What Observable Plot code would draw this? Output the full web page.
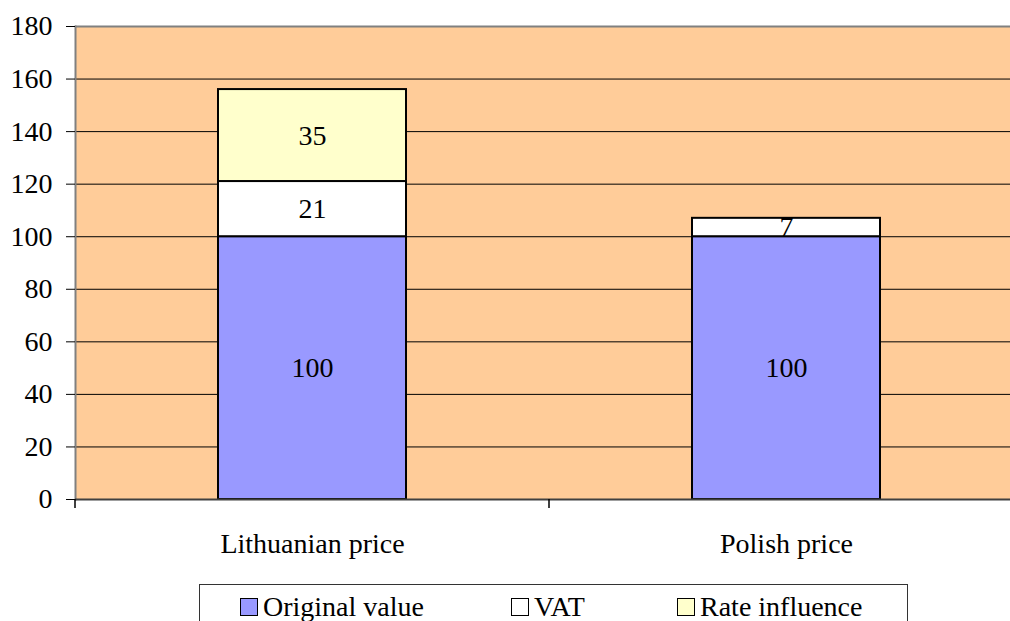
<!DOCTYPE html>
<html>
<head>
<meta charset="utf-8">
<script src="https://cdn.jsdelivr.net/npm/d3@7"></script>
<script src="https://cdn.jsdelivr.net/npm/@observablehq/plot@0.6"></script>
<style>
  html, body { margin: 0; padding: 0; background: #fff; overflow: hidden; width: 1010px; height: 621px; }
  #chart { position: absolute; left: 0; top: 0; width: 1023px; }
  #legend { position: absolute; left: 199px; top: 584px; width: 709px; height: 50px; border: 1px solid #333; box-sizing: border-box; background: #fff;
    font-family: "Times New Roman", "Liberation Serif", Tinos, Times, "DejaVu Serif", "Noto Serif", serif; font-size: 28px; line-height: 28px; color: #000; }
  .item { position: absolute; top: 8px; display: flex; align-items: center; white-space: nowrap; height: 28px; }
  .sw { width: 16px; height: 16px; border: 1.5px solid #000; margin-right: 5px; }
</style>
</head>
<body>
<div id="chart"></div>
<div id="legend"></div>
<script>
const categories = ["Lithuanian price", "Polish price"];
const seriesNames = ["Original value", "VAT", "Rate influence"];
const originalValue = [100, 100];
const vat = [21, 7];
const rateInfluence = [35, 0];
const yTicks = [0, 20, 40, 60, 80, 100, 120, 140, 160, 180];
const colors = ["#9999FF", "#FFFFFF", "#FFFFCC"];

const seriesValues = [originalValue, vat, rateInfluence];
const data = [];
categories.forEach((c, i) => {
  seriesNames.forEach((s, j) => {
    const v = seriesValues[j][i];
    if (v > 0) data.push({cat: c, series: s, value: v, order: j});
  });
});

const font = '"Times New Roman", "Liberation Serif", Tinos, Times, "DejaVu Serif", "Noto Serif", serif';
const plot = Plot.plot({
  width: 1023,
  height: 575,
  marginLeft: 75,
  marginRight: 0,
  marginTop: 26,
  marginBottom: 76,
  style: {fontFamily: font, fontSize: "28px", color: "#000", background: "transparent", overflow: "visible", maxWidth: "none"},
  x: {domain: categories, paddingInner: 0.603, paddingOuter: 0.3015, label: null},
  y: {domain: [0, 180], ticks: yTicks, label: null},
  color: {domain: seriesNames, range: colors},
  marks: [
    Plot.frame({fill: "#FFCC99", stroke: null}),
    Plot.gridY(yTicks.filter(t => t > 0 && t < 180), {stroke: "#000", strokeOpacity: 1, strokeWidth: 1}),
    Plot.ruleY([180], {stroke: "#808080", strokeWidth: 2}),
    Plot.frame({anchor: "left", stroke: "#808080", strokeWidth: 2}),
    Plot.barY(data, Plot.stackY({x: "cat", y: "value", fill: "series", order: (d) => d.order, stroke: "#000", strokeWidth: 2})),
    Plot.text(data, Plot.stackY({x: "cat", y: "value", text: (d) => String(d.value), order: (d) => d.order, fontSize: 28, fill: "#000", fontFamily: font})),
    Plot.ruleY([0], {stroke: "#404040", strokeWidth: 2}),
    Plot.axisY(yTicks, {tickSize: 9, tickPadding: 14, fontSize: 28, stroke: "#000", fontFamily: font}),
    Plot.axisX({tickSize: 0, tickPadding: 34, fontSize: 28, fontFamily: font})
  ]
});

// category boundary ticks derived from the band scale
const xs = plot.scale("x");
const svg = d3.select(plot.tagName === "svg" ? plot : plot.querySelector("svg"));
svg.style("max-width", "none");
svg.selectAll("text").style("font-family", font);
const c0 = xs.apply(categories[0]), c1 = xs.apply(categories[1]);
const step = c1 - c0;
const boundaries = [c0 + xs.bandwidth / 2 - step / 2, c0 + xs.bandwidth / 2 + step / 2];
const ys = plot.scale("y");
const y0 = ys.apply(0);
svg.append("g").selectAll("line").data(boundaries).join("line")
  .attr("x1", d => d).attr("x2", d => d)
  .attr("y1", y0).attr("y2", y0 + 9)
  .attr("stroke", "#000").attr("stroke-width", 1.5);

document.getElementById("chart").appendChild(plot);

// legend
const legend = document.getElementById("legend");
const itemLeft = [40, 311, 477];
seriesNames.forEach((s, i) => {
  const it = document.createElement("div");
  it.className = "item";
  it.style.left = itemLeft[i] + "px";
  const sw = document.createElement("div");
  sw.className = "sw";
  sw.style.background = colors[i];
  const t = document.createElement("span");
  t.textContent = s;
  it.appendChild(sw);
  it.appendChild(t);
  legend.appendChild(it);
});
</script>
</body>
</html>
